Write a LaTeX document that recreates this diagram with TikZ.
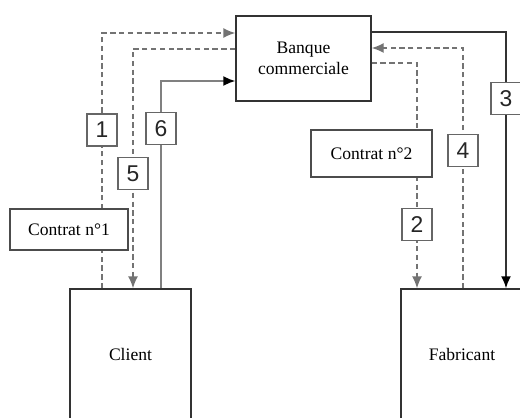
\documentclass[tikz,border=0pt]{standalone}
\usepackage{fontspec}
\setmainfont{Liberation Serif}
\setsansfont{Liberation Sans}
\usetikzlibrary{calc,arrows.meta}

\begin{document}
\begin{tikzpicture}[>={Latex[length=2.4mm,width=2mm]},
  party/.style={draw=black!80,line width=0.8pt,fill=white,minimum width=2.42cm,minimum height=2.62cm},
  contrat/.style={draw=black!70,line width=0.8pt,fill=white,inner sep=0pt},
  num/.style={solid,draw=black!60,text=black!85,line width=0.7pt,fill=white,font=\sffamily\fontsize{13}{14}\selectfont,minimum width=0.6cm,minimum height=0.64cm,inner sep=0pt},
  papier/.style={->,gray!90!black,line width=0.8pt,dash pattern=on 3pt off 2pt},
  fonds/.style={-{Latex[length=2.4mm,width=2mm,black]},line width=1pt}]
  \useasboundingbox (0,0) rectangle (10.4,8.34);
  \clip (0,0) rectangle (10.4,8.34);
  \node[party,minimum width=2.7cm,minimum height=1.7cm,align=center] (bank) at (6.07,7.17){Banque\\commerciale};
  \node[party] (client) at (2.61,1.25){Client};
  \node[party,minimum width=2.44cm] (fab) at (9.24,1.25){Fabricant};
  % flux cote client
  \draw[papier] ([xshift=-0.57cm]client.north) |- node[num,pos=0.31] (n1){1} ([yshift=0.51cm]bank.west);
  \draw[papier] ([yshift=0.19cm]bank.west) -| node[num,pos=0.76] (n5){5} ([xshift=0.05cm]client.north);
  \draw[fonds,gray] ([xshift=0.61cm]client.north) |- node[num,pos=0.385] (n6){6} ([yshift=-0.45cm]bank.west);
  % flux cote fabricant
  \draw[fonds,black!80] ([yshift=0.53cm]bank.east) -| node[num,pos=0.63] (n3){3} ([xshift=0.88cm]fab.north);
  \draw[papier] ([xshift=0.02cm]fab.north) |- node[num,pos=0.286] (n4){4} ([yshift=0.21cm]bank.east);
  \draw[papier] ([yshift=-0.09cm]bank.east) -| node[num,pos=0.858] (n2){2} ([xshift=-0.9cm]fab.north);
  \node[contrat,minimum width=2.36cm,minimum height=0.82cm] (c1) at (1.38,3.75){Contrat n°1};
  \node[contrat,minimum width=2.42cm,minimum height=0.94cm] (c2) at (7.43,5.27){Contrat n°2};
\end{tikzpicture}
\end{document}
